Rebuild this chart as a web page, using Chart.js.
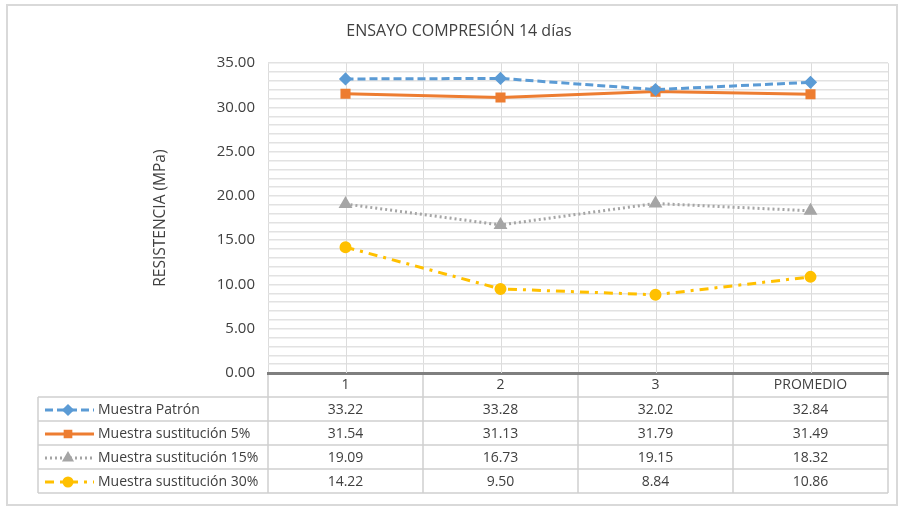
<!DOCTYPE html>
<html>
<head>
<meta charset="utf-8">
<script src="https://cdn.jsdelivr.net/npm/chart.js@4/dist/chart.umd.min.js"></script>
<style>
  body { margin: 0; background: #fff; }
  #wrap { width: 903px; height: 507px; position: relative; }
</style>
</head>
<body>
<div id="wrap"><canvas id="grafic"></canvas></div>
<script>
const categorii = ['1', '2', '3', 'PROMEDIO'];
const patron = [33.22, 33.28, 32.02, 32.84];
const sust5 = [31.54, 31.13, 31.79, 31.49];
const sust15 = [19.09, 16.73, 19.15, 18.32];
const sust30 = [14.22, 9.50, 8.84, 10.86];

const culoareText = '#404040';
const culoareGrila = '#dcdcdc';
const font = 'Open Sans';

// tabelul de date sub grafic (ca in Excel)
const tabelDate = {
  id: 'tabelDate',
  beforeDraw(chart) {
    const { ctx } = chart;
    ctx.save();
    ctx.strokeStyle = '#d9d9d9';
    ctx.lineWidth = 2;
    ctx.strokeRect(7, 5, 890, 500);
    ctx.restore();
  },
  beforeDatasetsDraw(chart) {
    const { ctx, chartArea } = chart;
    const x = chart.scales.x;
    ctx.save();
    ctx.strokeStyle = culoareGrila;
    ctx.lineWidth = 1;
    categorii.forEach((c, i) => {
      const px = Math.round(x.getPixelForValue(i)) + 0.5;
      ctx.beginPath();
      ctx.moveTo(px, chartArea.top);
      ctx.lineTo(px, chartArea.bottom);
      ctx.stroke();
    });
    ctx.restore();
  },
  afterDraw(chart) {
    const { ctx, chartArea } = chart;
    const x = chart.scales.x;
    const latime = x.getPixelForValue(1) - x.getPixelForValue(0);
    const susTabel = chartArea.bottom + x.height;
    const hRand = 24;
    const stanga = 38;
    const dreapta = chartArea.right;
    const seturi = chart.data.datasets;
    const jos = susTabel + hRand * seturi.length;

    ctx.save();
    ctx.strokeStyle = '#cfcfcf';
    ctx.lineWidth = 1.5;
    // linii orizontale
    for (let r = 0; r <= seturi.length; r++) {
      const y = susTabel + r * hRand;
      ctx.beginPath();
      ctx.moveTo(stanga, y);
      ctx.lineTo(dreapta, y);
      ctx.stroke();
    }
    // linii verticale
    const limite = [chartArea.left];
    categorii.forEach((c, i) => limite.push(x.getPixelForValue(i) + latime / 2));
    limite.forEach((lx) => {
      ctx.beginPath();
      ctx.moveTo(lx, chartArea.bottom + 2);
      ctx.lineTo(lx, jos);
      ctx.stroke();
    });
    ctx.beginPath();
    ctx.moveTo(stanga, susTabel);
    ctx.lineTo(stanga, jos);
    ctx.stroke();

    ctx.font = `14px "${font}"`;
    ctx.textBaseline = 'middle';
    seturi.forEach((ds, r) => {
      const yc = susTabel + r * hRand + hRand / 2 + 1;
      // mostra legenda
      ctx.save();
      ctx.strokeStyle = ds.borderColor;
      ctx.lineWidth = 3;
      ctx.setLineDash(ds.borderDash || []);
      ctx.lineCap = 'butt';
      ctx.beginPath();
      ctx.moveTo(45, yc);
      ctx.lineTo(94, yc);
      ctx.stroke();
      ctx.setLineDash([]);
      ctx.fillStyle = ds.borderColor;
      ctx.strokeStyle = ds.borderColor;
      Chart.helpers.drawPoint(ctx, {
        pointStyle: ds.pointStyle,
        radius: 4,
        rotation: 0,
        borderWidth: 1
      }, 68, yc);
      ctx.restore();

      ctx.fillStyle = culoareText;
      ctx.textAlign = 'left';
      ctx.fillText(ds.label, 98, yc);
      ctx.textAlign = 'center';
      ds.data.forEach((v, i) => {
        ctx.fillText(v.toFixed(2), x.getPixelForValue(i), yc);
      });
    });
    ctx.restore();
  }
};

new Chart(document.getElementById('grafic'), {
  type: 'line',
  data: {
    labels: categorii,
    datasets: [
      {
        label: 'Muestra Patrón',
        data: patron,
        borderColor: '#5b9bd5',
        backgroundColor: '#5b9bd5',
        borderDash: [8, 4],
        borderWidth: 3,
        pointStyle: 'rectRot',
        pointRadius: 4.5
      },
      {
        label: 'Muestra sustitución 5%',
        data: sust5,
        borderColor: '#ed7d31',
        backgroundColor: '#ed7d31',
        borderWidth: 3,
        pointStyle: 'rect',
        pointRadius: 5
      },
      {
        label: 'Muestra sustitución 15%',
        data: sust15,
        borderColor: '#a5a5a5',
        backgroundColor: '#a5a5a5',
        borderDash: [2, 3],
        borderWidth: 3,
        pointStyle: 'triangle',
        pointRadius: 5
      },
      {
        label: 'Muestra sustitución 30%',
        data: sust30,
        borderColor: '#ffc000',
        backgroundColor: '#ffc000',
        borderDash: [9, 6, 3, 6],
        borderWidth: 3,
        pointStyle: 'circle',
        pointRadius: 4.5
      }
    ]
  },
  options: {
    responsive: true,
    maintainAspectRatio: false,
    animation: false,
    layout: { padding: { top: 20, left: 30, right: 15, bottom: 110 } },
    plugins: {
      legend: { display: false },
      tooltip: { enabled: false },
      title: {
        display: true,
        text: 'ENSAYO COMPRESIÓN 14 días',
        color: culoareText,
        font: { family: font, size: 16, weight: 'normal' },
        padding: { top: 2, bottom: 22 }
      }
    },
    scales: {
      x: {
        offset: true,
        afterFit: (s) => { s.height = 24; },
        grid: { display: true, offset: true, color: culoareGrila, drawTicks: false },
        border: { display: true, color: '#7f7f7f', width: 3 },
        ticks: { color: culoareText, font: { family: font, size: 14 }, padding: 4 }
      },
      y: {
        min: 0,
        max: 35,
        afterFit: (s) => { s.width = 238; },
        title: {
          display: true,
          text: 'RESISTENCIA (MPa)',
          color: culoareText,
          font: { family: font, size: 15.5, weight: 'normal' },
          padding: { top: 121, bottom: 0 }
        },
        grid: { color: '#e2e2e2', lineWidth: 1.5, drawTicks: false },
        border: { display: false },
        ticks: {
          stepSize: 1,
          autoSkip: false,
          padding: 13,
          color: culoareText,
          font: { family: font, size: 15 },
          callback: (v) => (v % 5 === 0 ? v.toFixed(2) : '')
        }
      }
    }
  },
  plugins: [tabelDate]
});
</script>
</body>
</html>
